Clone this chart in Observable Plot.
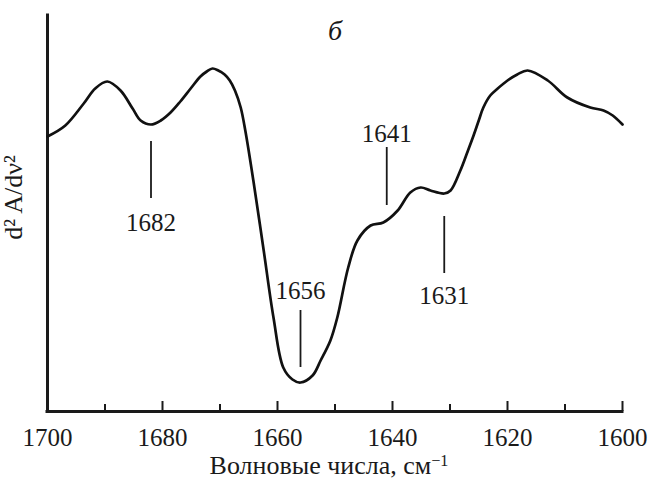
<!DOCTYPE html>
<html>
<head>
<meta charset="utf-8">
<script src="https://cdn.jsdelivr.net/npm/d3@7"></script>
<script src="https://cdn.jsdelivr.net/npm/@observablehq/plot@0.6"></script>
<style>
  html, body { margin: 0; padding: 0; background: #fff; }
  #chart svg { display: block; }
  #chart svg text { font-family: "Liberation Serif", "Times New Roman", serif; }
</style>
</head>
<body>
<div id="chart"></div>
<script>
// Second-derivative FTIR spectrum, amide I region (arbitrary units)
const wavenumber = [
  1700.0, 1696.9, 1693.7, 1691.7, 1689.6, 1687.3, 1685.2, 1683.8, 1682.0, 1680.3,
  1678.6, 1676.9, 1675.1, 1673.4, 1672.3, 1671.3, 1670.3, 1669.2, 1668.3, 1667.4,
  1666.4, 1665.6, 1664.2, 1662.4, 1660.7, 1659.0, 1657.4, 1656.0, 1653.9, 1652.5,
  1650.8, 1649.6, 1647.7, 1646.1, 1643.8, 1641.6, 1639.1, 1636.9, 1635.1, 1633.4,
  1631.0, 1629.9, 1628.2, 1627.0, 1625.9, 1625.0, 1624.2, 1623.0, 1621.7, 1620.0,
  1618.3, 1616.5, 1613.0, 1609.6, 1605.6, 1603.3, 1601.7, 1600.0
];
const d2A = [
  0.320, 0.375, 0.485, 0.560, 0.595, 0.550, 0.460, 0.400, 0.380, 0.400,
  0.440, 0.495, 0.560, 0.620, 0.645, 0.660, 0.650, 0.630, 0.600, 0.550,
  0.465, 0.350, 0.100, -0.250, -0.585, -0.835, -0.895, -0.910, -0.875, -0.800,
  -0.700, -0.585, -0.335, -0.200, -0.125, -0.110, -0.050, 0.040, 0.065, 0.050,
  0.035, 0.050, 0.150, 0.240, 0.325, 0.400, 0.465, 0.525, 0.560, 0.600,
  0.630, 0.650, 0.600, 0.515, 0.465, 0.450, 0.425, 0.380
];

// Band assignments: position, marker line extent and label level (same units as d2A)
const bandPositions = [1682, 1656, 1641, 1631];
const bandLineTop    = [0.295, -0.550, 0.265, -0.080];
const bandLineBottom = [0.010, -0.835, -0.025, -0.365];
const bandLabelLevel = [-0.150, -0.490, 0.295, -0.515];

const majorTicks = [1700, 1680, 1660, 1640, 1620, 1600];
const minorTicks = [1690, 1670, 1650, 1630, 1610];

const panelLabel = "б";
const yLabel = "d² A/dν²";
const xLabel = "Волновые числа, см";
const xLabelSup = "−1";

const Y_MIN = -1.055, Y_MAX = 0.925;

const spectrum = wavenumber.map((nu, i) => ({nu, value: d2A[i]}));
const bands = bandPositions.map((nu, i) => ({
  nu, top: bandLineTop[i], bottom: bandLineBottom[i], level: bandLabelLevel[i]
}));

const FONT = "'Liberation Serif', 'Times New Roman', serif";
const INK = "#1a1a1a";
const W = 649, H = 480;
const M = {top: 15, right: 27, bottom: 69, left: 47};
const innerH = H - M.top - M.bottom;

const chart = Plot.plot({
  width: W,
  height: H,
  marginTop: M.top,
  marginRight: M.right,
  marginBottom: M.bottom,
  marginLeft: M.left,
  style: {fontFamily: FONT, color: INK, background: "#fff"},
  x: {domain: [1700, 1600], axis: null},
  y: {domain: [Y_MIN, Y_MAX], axis: null},
  marks: [
    // inward ticks on the wavenumber axis
    Plot.tickX(majorTicks, {x: d => d, insetTop: innerH - 10, stroke: INK, strokeWidth: 2}),
    Plot.tickX(minorTicks, {x: d => d, insetTop: innerH - 7, stroke: INK, strokeWidth: 2}),
    // axis lines
    Plot.ruleY([Y_MIN], {stroke: INK, strokeWidth: 3, strokeLinecap: "square"}),
    Plot.ruleX([1700], {stroke: INK, strokeWidth: 3, strokeLinecap: "square"}),
    // tick labels
    Plot.text(majorTicks, {
      x: d => d, text: d => String(d), frameAnchor: "bottom", dy: 34,
      textAnchor: "middle", lineAnchor: "bottom", fontSize: 25, fill: INK
    }),
    // spectrum
    Plot.line(spectrum, {
      x: "nu", y: "value", curve: "catmull-rom",
      stroke: "#111", strokeWidth: 2.7, strokeLinejoin: "round"
    }),
    // band markers
    Plot.ruleX(bands, {x: "nu", y1: "top", y2: "bottom", stroke: INK, strokeWidth: 1.8}),
    Plot.text(bands, {
      x: "nu", y: "level", text: d => String(d.nu),
      textAnchor: "middle", lineAnchor: "bottom", fontSize: 25, fill: INK
    }),
    // panel letter
    Plot.text([panelLabel], {
      frameAnchor: "top", dy: 24, textAnchor: "middle", lineAnchor: "bottom",
      fontSize: 28, fontStyle: "italic", fill: INK
    }),
    // y-axis title
    Plot.text([yLabel], {
      frameAnchor: "left", rotate: -90, dx: -26, dy: -16,
      textAnchor: "middle", lineAnchor: "bottom", fontSize: 26, fill: INK
    }),
    // x-axis title
    Plot.text([xLabel], {
      frameAnchor: "bottom", dx: -6, dy: 62, textAnchor: "middle", lineAnchor: "bottom",
      fontSize: 26, fill: INK
    })
  ]
});

// append the superscript unit exponent to the x-axis title
d3.select(chart).selectAll("text")
  .filter(function () { return this.textContent === xLabel; })
  .each(function () {
    d3.select(this).append("tspan")
      .attr("dy", "-0.45em")
      .attr("font-size", "0.62em")
      .text(xLabelSup);
  });

document.getElementById("chart").appendChild(chart);
</script>
</body>
</html>
